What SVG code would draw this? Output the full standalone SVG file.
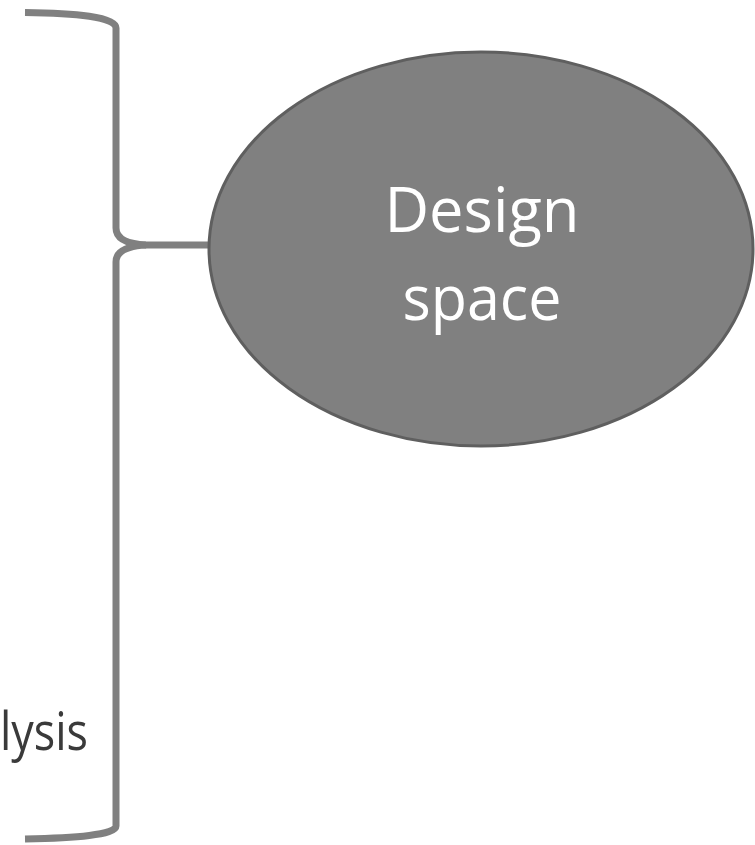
<svg xmlns="http://www.w3.org/2000/svg" width="755" height="845" viewBox="0 0 755 845">
  <style>
    .brace { fill: none; stroke: #808080; stroke-width: 7; stroke-linejoin: round; }
    .node { fill: #808080; stroke: #5f5f5f; stroke-width: 3; }
    .nodetext { font-family: "Open Sans", "Noto Sans", sans-serif; font-size: 62px; fill: #ffffff; text-anchor: middle; }
    .label { font-family: "Open Sans", "Noto Sans", sans-serif; font-size: 53px; fill: #3a3a3a; }
  </style>
  <rect width="755" height="845" fill="#ffffff"/>
  <g id="connectors">
    <path class="brace" d="M25,12.5 C75,13 116,17 116,28 L116,228 C116,239 128,244 146,245 L212,245"/>
    <path class="brace" d="M146,245 C128,246 116,251 116,262 L116,826 C116,835 75,838 25,839"/>
  </g>
  <g id="label-analysis">
    <text class="label" x="0" y="750" textLength="88" lengthAdjust="spacingAndGlyphs">lysis</text>
  </g>
  <g id="node-design-space">
    <ellipse class="node" cx="481" cy="249" rx="272" ry="197"/>
    <text class="nodetext" x="482" y="232" textLength="195" lengthAdjust="spacingAndGlyphs">Design</text>
    <text class="nodetext" x="482" y="320" textLength="159" lengthAdjust="spacingAndGlyphs">space</text>
  </g>
</svg>
